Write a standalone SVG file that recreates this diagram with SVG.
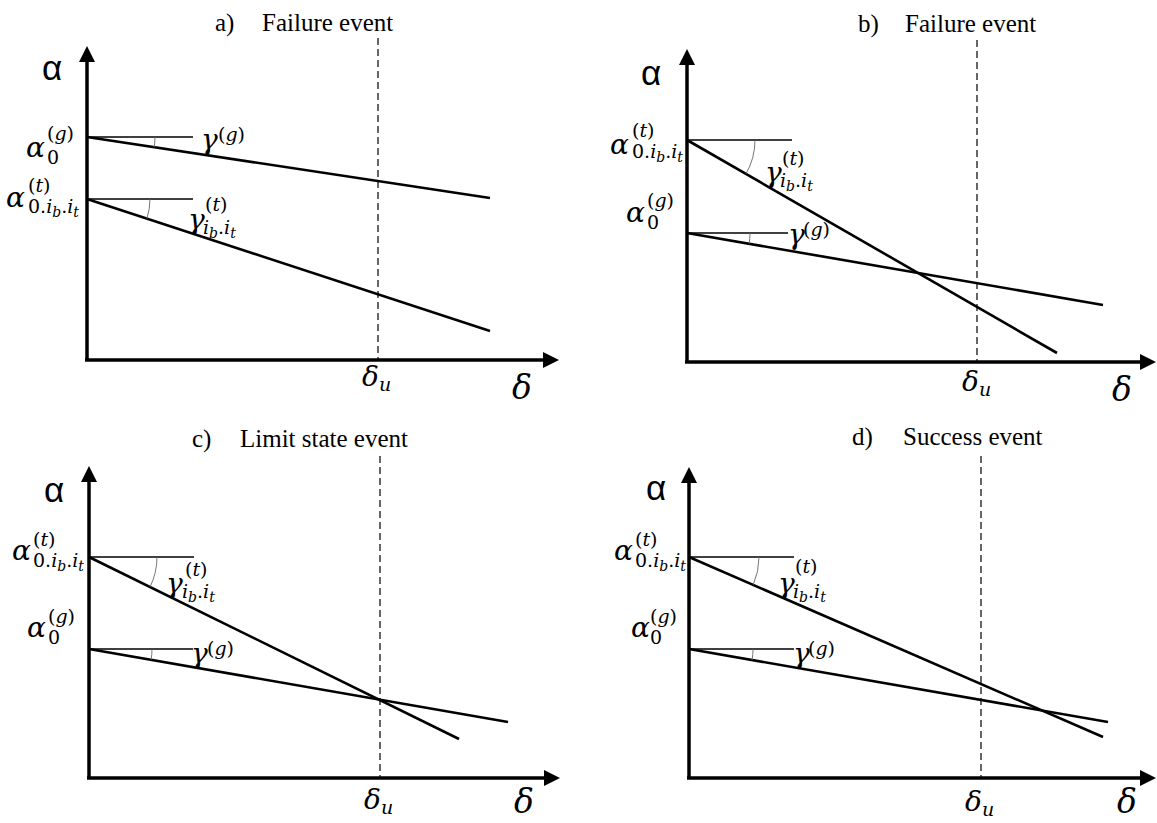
<svg xmlns="http://www.w3.org/2000/svg" width="1157" height="823" viewBox="0 0 1157 823">
<style>
.bg{fill:#fff}
.ax{stroke:#000;stroke-width:3.5;fill:none}
.hd{fill:#000;stroke:none}
.ln{stroke:#000;stroke-width:2.6;fill:none;stroke-linecap:butt}
.rf{stroke:#000;stroke-width:1.4;fill:none}
.arc{stroke:#666;stroke-width:0.9;fill:none}
.dash{stroke:#000;stroke-width:1.2;stroke-dasharray:7 4;fill:none}
.ttl{font-family:"Liberation Serif","Times New Roman",serif;font-size:25px;fill:#000}
.m{font-family:"DejaVu Serif",serif;font-style:italic;font-size:28px;fill:#000}
.s{font-family:"DejaVu Serif",serif;font-style:italic;font-size:19px;fill:#000}
.ss{font-size:14px}
.u{font-style:normal}
.big{font-family:"DejaVu Serif",serif;font-style:italic;font-size:33px;fill:#000}
.axa{font-family:"Liberation Sans",Arial,sans-serif;font-size:35px;fill:#000}
</style>
<rect class="bg" x="0" y="0" width="1157" height="823"/>

<!-- Panel a -->
<g id="panel-a">
  <text class="ttl" x="215" y="31">a)</text>
  <text class="ttl" x="262" y="31">Failure event</text>
  <line class="ax" x1="87" y1="360" x2="87" y2="60"/>
  <path class="hd" d="M87,46 L95,62 L79,62 Z"/>
  <line class="ax" x1="85" y1="360" x2="545" y2="360"/>
  <path class="hd" d="M559,360 L543,352 L543,368 Z"/>
  <line class="dash" x1="378" y1="38" x2="378" y2="359"/>
  <line class="rf" x1="87" y1="137" x2="193" y2="137"/>
  <line class="rf" x1="87" y1="199" x2="193" y2="199"/>
  <line class="ln" x1="87" y1="137" x2="490" y2="198"/>
  <line class="ln" x1="87" y1="199" x2="490" y2="331"/>
  <path class="arc" d="M155,137 A68,68 0 0 1 154.2,147.3"/>
  <path class="arc" d="M150,199 A63,63 0 0 1 146.9,218.6"/>
  <text class="axa" x="42" y="80">α</text>
  <text class="m" x="26" y="157">α</text>
  <text class="s" x="47" y="140"><tspan class="u">(</tspan>g<tspan class="u">)</tspan></text>
  <text class="s u" x="47" y="164">0</text>
  <text class="m" x="6" y="207">α</text>
  <text class="s" x="28" y="192"><tspan class="u">(</tspan>t<tspan class="u">)</tspan></text>
  <text class="s" x="28" y="213"><tspan class="u">0.</tspan>i<tspan class="ss" dy="4">b</tspan><tspan class="u" dy="-4">.</tspan>i<tspan class="ss" dy="4">t</tspan></text>
  <text class="m" x="201" y="149">γ</text>
  <text class="s" x="218" y="141"><tspan class="u">(</tspan>g<tspan class="u">)</tspan></text>
  <text class="m" x="188" y="229">γ</text>
  <text class="s" x="205" y="211"><tspan class="u">(</tspan>t<tspan class="u">)</tspan></text>
  <text class="s" x="203" y="234">i<tspan class="ss" dy="4">b</tspan><tspan class="u" dy="-4">.</tspan>i<tspan class="ss" dy="4">t</tspan></text>
  <text class="m" x="362" y="386">δ</text>
  <text class="s" x="379" y="391">u</text>
  <text class="big" x="512" y="399">δ</text>
</g>

<!-- Panel b -->
<g id="panel-b">
  <text class="ttl" x="858" y="32">b)</text>
  <text class="ttl" x="905" y="32">Failure event</text>
  <line class="ax" x1="687" y1="362" x2="687" y2="63"/>
  <path class="hd" d="M687,49 L695,65 L679,65 Z"/>
  <line class="ax" x1="685" y1="362" x2="1142" y2="362"/>
  <path class="hd" d="M1156,362 L1140,354 L1140,370 Z"/>
  <line class="dash" x1="977" y1="40" x2="977" y2="361"/>
  <line class="rf" x1="687" y1="140" x2="792" y2="140"/>
  <line class="rf" x1="687" y1="233" x2="788" y2="233"/>
  <line class="ln" x1="687" y1="233" x2="1103" y2="305"/>
  <line class="ln" x1="687" y1="140" x2="1057" y2="353"/>
  <path class="arc" d="M755,140 A68,68 0 0 1 745.9,174"/>
  <path class="arc" d="M750,233 A63,63 0 0 1 749.1,243.7"/>
  <text class="axa" x="641" y="85">α</text>
  <text class="m" x="610" y="154">α</text>
  <text class="s" x="632" y="137"><tspan class="u">(</tspan>t<tspan class="u">)</tspan></text>
  <text class="s" x="632" y="158"><tspan class="u">0.</tspan>i<tspan class="ss" dy="4">b</tspan><tspan class="u" dy="-4">.</tspan>i<tspan class="ss" dy="4">t</tspan></text>
  <text class="m" x="626" y="222">α</text>
  <text class="s" x="647" y="207"><tspan class="u">(</tspan>g<tspan class="u">)</tspan></text>
  <text class="s u" x="647" y="229">0</text>
  <text class="m" x="765" y="182">γ</text>
  <text class="s" x="782" y="165"><tspan class="u">(</tspan>t<tspan class="u">)</tspan></text>
  <text class="s" x="780" y="187">i<tspan class="ss" dy="4">b</tspan><tspan class="u" dy="-4">.</tspan>i<tspan class="ss" dy="4">t</tspan></text>
  <text class="m" x="788" y="244">γ</text>
  <text class="s" x="803" y="236"><tspan class="u">(</tspan>g<tspan class="u">)</tspan></text>
  <text class="m" x="962" y="391">δ</text>
  <text class="s" x="979" y="396">u</text>
  <text class="big" x="1112" y="401">δ</text>
</g>

<!-- Panel c -->
<g id="panel-c">
  <text class="ttl" x="192" y="447">c)</text>
  <text class="ttl" x="240" y="447">Limit state event</text>
  <line class="ax" x1="89" y1="778" x2="89" y2="480"/>
  <path class="hd" d="M89,466 L97,482 L81,482 Z"/>
  <line class="ax" x1="87" y1="778" x2="546" y2="778"/>
  <path class="hd" d="M560,778 L544,770 L544,786 Z"/>
  <line class="dash" x1="380" y1="456" x2="380" y2="777"/>
  <line class="rf" x1="89" y1="557" x2="194" y2="557"/>
  <line class="rf" x1="89" y1="649" x2="193" y2="649"/>
  <line class="ln" x1="89" y1="557" x2="459" y2="739"/>
  <line class="ln" x1="89" y1="649" x2="508" y2="722"/>
  <path class="arc" d="M157,557 A68,68 0 0 1 150,587"/>
  <path class="arc" d="M152,649 A63,63 0 0 1 151.1,659.8"/>
  <text class="axa" x="44" y="502">α</text>
  <text class="m" x="12" y="560">α</text>
  <text class="s" x="33" y="546"><tspan class="u">(</tspan>t<tspan class="u">)</tspan></text>
  <text class="s" x="33" y="567"><tspan class="u">0.</tspan>i<tspan class="ss" dy="4">b</tspan><tspan class="u" dy="-4">.</tspan>i<tspan class="ss" dy="4">t</tspan></text>
  <text class="m" x="27" y="637">α</text>
  <text class="s" x="48" y="623"><tspan class="u">(</tspan>g<tspan class="u">)</tspan></text>
  <text class="s u" x="48" y="644">0</text>
  <text class="m" x="166" y="593">γ</text>
  <text class="s" x="185" y="576"><tspan class="u">(</tspan>t<tspan class="u">)</tspan></text>
  <text class="s" x="182" y="598">i<tspan class="ss" dy="4">b</tspan><tspan class="u" dy="-4">.</tspan>i<tspan class="ss" dy="4">t</tspan></text>
  <text class="m" x="191" y="663">γ</text>
  <text class="s" x="207" y="655"><tspan class="u">(</tspan>g<tspan class="u">)</tspan></text>
  <text class="m" x="364" y="809">δ</text>
  <text class="s" x="381" y="814">u</text>
  <text class="big" x="514" y="813">δ</text>
</g>

<!-- Panel d -->
<g id="panel-d">
  <text class="ttl" x="852" y="445">d)</text>
  <text class="ttl" x="903" y="445">Success event</text>
  <line class="ax" x1="689" y1="778" x2="689" y2="481"/>
  <path class="hd" d="M689,467 L697,483 L681,483 Z"/>
  <line class="ax" x1="687" y1="778" x2="1142" y2="778"/>
  <path class="hd" d="M1156,778 L1140,770 L1140,786 Z"/>
  <line class="dash" x1="981" y1="456" x2="981" y2="777"/>
  <line class="rf" x1="689" y1="557" x2="794" y2="557"/>
  <line class="rf" x1="689" y1="649" x2="794" y2="649"/>
  <line class="ln" x1="689" y1="557" x2="1103" y2="737"/>
  <line class="ln" x1="689" y1="649" x2="1108" y2="722"/>
  <path class="arc" d="M759,557 A70,70 0 0 1 753.2,584.9"/>
  <path class="arc" d="M753,649 A64,64 0 0 1 752.1,660"/>
  <text class="axa" x="646" y="500">α</text>
  <text class="m" x="614" y="560">α</text>
  <text class="s" x="635" y="546"><tspan class="u">(</tspan>t<tspan class="u">)</tspan></text>
  <text class="s" x="635" y="567"><tspan class="u">0.</tspan>i<tspan class="ss" dy="4">b</tspan><tspan class="u" dy="-4">.</tspan>i<tspan class="ss" dy="4">t</tspan></text>
  <text class="m" x="631" y="637">α</text>
  <text class="s" x="650" y="623"><tspan class="u">(</tspan>g<tspan class="u">)</tspan></text>
  <text class="s u" x="650" y="644">0</text>
  <text class="m" x="778" y="593">γ</text>
  <text class="s" x="795" y="573"><tspan class="u">(</tspan>t<tspan class="u">)</tspan></text>
  <text class="s" x="793" y="598">i<tspan class="ss" dy="4">b</tspan><tspan class="u" dy="-4">.</tspan>i<tspan class="ss" dy="4">t</tspan></text>
  <text class="m" x="793" y="663">γ</text>
  <text class="s" x="808" y="655"><tspan class="u">(</tspan>g<tspan class="u">)</tspan></text>
  <text class="m" x="965" y="811">δ</text>
  <text class="s" x="982" y="816">u</text>
  <text class="big" x="1117" y="813">δ</text>
</g>
</svg>
